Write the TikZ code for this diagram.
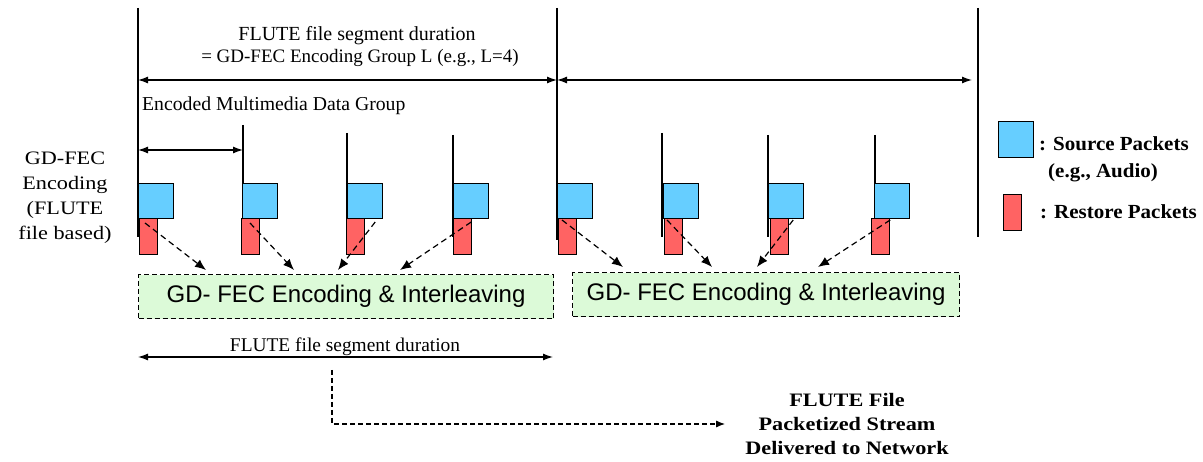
\documentclass[tikz,border=0pt]{standalone}
\usepackage{fontspec}
\setmainfont{Liberation Serif}
\setsansfont{Liberation Sans}
\newfontfamily\wideserif[FakeStretch=1.17]{Liberation Serif}
\newfontfamily\widebold[FakeStretch=1.17]{Liberation Serif Bold}
\newfontfamily\legbold[FakeStretch=1.05]{Liberation Serif Bold}
\usetikzlibrary{arrows.meta,calc}
\definecolor{srcblue}{RGB}{102,206,255}
\definecolor{rstred}{RGB}{255,99,99}
\definecolor{grpgreen}{RGB}{220,250,216}
\begin{document}
\begin{tikzpicture}[x=1pt,y=-1pt,
  ln/.style={line width=1.3pt},
  dimarr/.style={line width=1.3pt,{Latex[length=10pt,width=7pt]}-{Latex[length=10pt,width=7pt]}},
  src/.style={draw,line width=1.2pt,fill=srcblue,minimum width=35pt,minimum height=35pt,inner sep=0,anchor=north west},
  rst/.style={draw,line width=1.2pt,fill=rstred,minimum width=18pt,minimum height=36pt,inner sep=0,anchor=north west},
  grp/.style={draw,dash pattern=on 5pt off 3pt,line width=1.1pt,fill=grpgreen,inner sep=0,anchor=north west,minimum height=44pt,font=\sffamily\fontsize{24}{28}\selectfont},
  darr/.style={dash pattern=on 6pt off 4pt,line width=1.2pt,-{Latex[length=11pt,width=9pt]}},
  lbl/.style={font=\fontsize{20}{25}\selectfont,inner sep=0,align=center},
  blbl/.style={font=\legbold\fontsize{20}{24}\selectfont,inner sep=0},
]
\useasboundingbox (0,0) rectangle (1203,462);

% main vertical lines
\coordinate (t0) at (138,8);   \coordinate (b0) at (138,237);
\coordinate (t1) at (557,8);   \coordinate (b1) at (557,240);
\coordinate (t2) at (978,8);   \coordinate (b2) at (978,237);
\draw[ln] (t0) -- (b0);
\draw[ln] (t1) -- (b1);
\draw[ln] (t2) -- (b2);

% group vertical lines
\foreach \n/\x/\t in {2/243/125,3/347/133,4/453/135,6/662/133,7/768/135,8/875/135}{
  \coordinate (gt\n) at (\x,\t);
  \coordinate (gb\n) at (\x,237);
  \draw[ln] (gt\n) -- (gb\n);
}

% top dimension
\coordinate (a0) at (138,80);
\coordinate (a1) at (557,80);
\coordinate (a2) at (972,80);
\draw[dimarr] (a0) -- (a1);
\draw[dimarr] (a1) -- (a2);
\node[lbl,anchor=base] (seg1) at (357,41) {FLUTE file segment duration};
\node[lbl,anchor=base,font=\fontsize{19}{23}\selectfont] (seg2) at (360,63) {= GD-FEC Encoding Group L (e.g., L=4)};

% encoded multimedia data group
\node[lbl,anchor=base west,font=\fontsize{19.7}{24}\selectfont] (emdg) at (142,111) {Encoded Multimedia Data Group};
\coordinate (e0) at (138,150);
\coordinate (e1) at (243,150);
\draw[dimarr] (e0) -- (e1);

% left label
\node[lbl,font=\wideserif\fontsize{19}{25}\selectfont] (gdfec) at (65,198) {GD-FEC\\Encoding\\(FLUTE\\file based)};

% packets
\foreach \n/\x/\r in {1/138/139,2/242/241,3/347/346,4/453/453,5/557/558,6/663/664,7/768/770,8/874/871}{
  \node[rst] (rst\n) at (\r,218) {};
  \node[src] (src\n) at (\x,183) {};
}

% encoding boxes
\node[grp,minimum width=415pt] (grp1) at (138,274) {GD- FEC Encoding \& Interleaving};
\node[grp,minimum width=387pt] (grp2) at (572,272) {GD- FEC Encoding \& Interleaving};

% dashed arrows
\draw[darr] ($(rst1.north west)+(6,5)$) -- ($(grp1.north west)+(68,-4)$);
\draw[darr] ($(rst2.north west)+(9,5)$) -- ($(grp1.north west)+(156,-4)$);
\draw[darr] ($(rst3.north east)+(10,4)$) -- ($(grp1.north west)+(200,-4)$);
\draw[darr] ($(rst4.north east)+(-1,4)$) -- ($(grp1.north west)+(262,-4)$);
\draw[darr] ($(rst5.north west)+(4,2)$) -- ($(grp2.north west)+(51,-5)$);
\draw[darr] ($(rst6.north west)+(3,2)$) -- ($(grp2.north west)+(140,-5)$);
\draw[darr] ($(rst7.north east)+(4,2)$) -- ($(grp2.north west)+(185,-5)$);
\draw[darr] ($(rst8.north east)+(0,2)$) -- ($(grp2.north west)+(246,-5)$);

% bottom dimension
\node[lbl,anchor=base,font=\fontsize{19.4}{23}\selectfont] (seg3) at (345,352) {FLUTE file segment duration};
\coordinate (c0) at (138,357);
\coordinate (c1) at (553,357);
\draw[dimarr] (c0) -- (c1);

% output
\node[inner sep=0,align=center,font=\widebold\fontsize{19}{24}\selectfont] (out) at (847,424) {FLUTE File\\Packetized Stream\\Delivered to Network};
\coordinate (d0) at (332,370);
\draw[darr,dash pattern=on 5pt off 3pt,-{Latex[length=9pt,width=7pt]}] (d0) |- ([xshift=-20pt]out.west);

% legend
\node[src,minimum height=36pt] (legsrc) at (998,121) {};
\node[rst] (legrst) at (1003,194) {};
\node[blbl,anchor=base west] (legsrct) at (1039,151) {: Source Packets};
\node[blbl,anchor=base west] (legaud) at (1048,178) {(e.g., Audio)};
\node[blbl,anchor=base west] (legrstt) at (1040,219) {: Restore Packets};
\end{tikzpicture}
\end{document}
